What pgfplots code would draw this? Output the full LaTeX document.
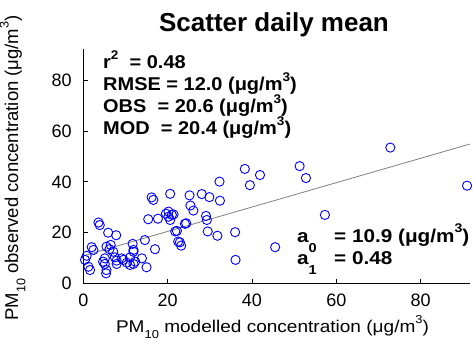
\documentclass[border=0pt]{standalone}
\usepackage{fontspec}
\setmainfont{Liberation Sans}
\usepackage{graphicx}
\usepackage{pgfplots}
\pgfplotsset{compat=1.18}
\newcommand\sups[1]{\raisebox{0.5em}{\scalebox{0.68}{#1}}}
\newcommand\subs[1]{\raisebox{-0.4em}{\scalebox{0.68}{#1}}}
\newcommand\hs[1]{\scalebox{1.12}[1]{#1}}
\newcommand\hsb[1]{\scalebox{1.08}[1]{#1}}
\pgfplotstableread{
x y
72.8 53.5
91.0 38.5
41.9 42.7
51.3 46.2
52.8 41.5
57.3 27.0
45.5 14.3
38.3 45.1
39.5 38.7
36.0 20.2
36.1 9.3
32.3 40.1
20.6 35.3
25.2 34.7
28.1 35.2
29.9 34.0
32.4 32.6
25.4 30.7
26.1 28.7
20.2 28.3
21.0 27.0
20.6 25.0
29.1 26.6
29.3 25.0
24.1 23.5
29.5 20.5
31.8 18.8
21.8 20.5
22.9 16.2
23.2 14.9
16.2 33.9
16.6 32.9
3.6 24.0
3.9 23.0
15.4 25.3
17.7 25.5
19.6 27.5
20.2 26.3
21.4 27.2
24.4 23.7
22.2 20.7
22.5 16.5
5.9 20.0
7.8 19.0
14.6 17.1
17.0 13.5
11.7 15.6
11.9 13.2
2.0 14.3
2.4 13.2
5.5 14.5
6.5 15.2
6.2 13.5
7.1 12.5
0.8 10.9
5.1 9.9
7.5 10.3
9.1 9.9
11.1 10.3
13.9 9.9
12.3 8.6
4.7 8.6
5.1 7.7
7.9 9.0
10.3 8.2
11.1 7.3
11.9 7.7
15.0 6.4
1.2 6.6
1.6 5.3
5.5 5.3
5.4 4.0
7.9 7.7
0.4 9.3
9.5 9.3
11.9 12.5
}\scatterdata
\begin{document}
\begin{tikzpicture}[x=1pt,y=1pt]
\useasboundingbox (0,0) rectangle (473,351);
\begin{axis}[
  at={(83.3pt,67.5pt)}, anchor=south west,
  scale only axis, width=386.7pt, height=234.5pt,
  xmin=0, xmax=91.7, ymin=0, ymax=92.3,
  axis x line*=bottom, axis y line*=left,
  axis line style={line width=0.9pt, -},
  xtick={0,20,40,60,80}, ytick={0,20,40,60,80},
  tick align=inside, major tick length=5pt,
  tick style={line width=0.8pt, black},
  /pgf/number format/assume math mode=true,
  ticklabel style={font=\fontsize{18}{18}\selectfont},
  xticklabel style={anchor=base, inner sep=0pt, yshift=-22.5pt},
  yticklabel style={anchor=east, inner sep=0pt, xshift=-11.5pt},
]
\addplot[color={rgb,255:red,128;green,128;blue,128}, line width=0.8pt] coordinates {(0,10.9) (91.7,54.9)};
\addplot[only marks, mark=o, mark size=4.6pt, color=blue, mark options={line width=0.9pt}] table[x=x,y=y] {\scatterdata};
\end{axis}
\node[font=\fontsize{26}{26}\selectfont\bfseries, anchor=base] at (274,319.5) {Scatter daily mean};
\node[font=\fontsize{17}{17}\selectfont, anchor=base] at (272.5,19) {\hs{PM\subs{10} modelled concentration (μg/m\sups{3})}};
\node[font=\fontsize{18.5}{18.5}\selectfont, anchor=base, rotate=90] at (18,183) {PM\subs{10} observed concentration (μg/m\sups{3})};
\begin{scope}[every node/.style={font=\fontsize{18.5}{18.5}\selectfont\bfseries, anchor=base west, inner sep=0pt}]
\node at (103,282) {\hsb{r\sups{2}\ \ = 0.48}};
\node at (103,260) {\hsb{RMSE = 12.0 (μg/m\sups{3})}};
\node at (103,238) {\hsb{OBS \ = 20.6 (μg/m\sups{3})}};
\node at (103,216) {\hsb{MOD \ = 20.4 (μg/m\sups{3})}};
\node at (297,109) {\hs{a\raisebox{-0.55em}{\scalebox{0.7}{0}}}};
\node at (297,87) {\hs{a\raisebox{-0.55em}{\scalebox{0.7}{1}}}};
\node at (334,109) {\hs{= 10.9 (μg/m\sups{3})}};
\node at (334,87) {\hs{= 0.48}};
\end{scope}
\end{tikzpicture}
\end{document}
